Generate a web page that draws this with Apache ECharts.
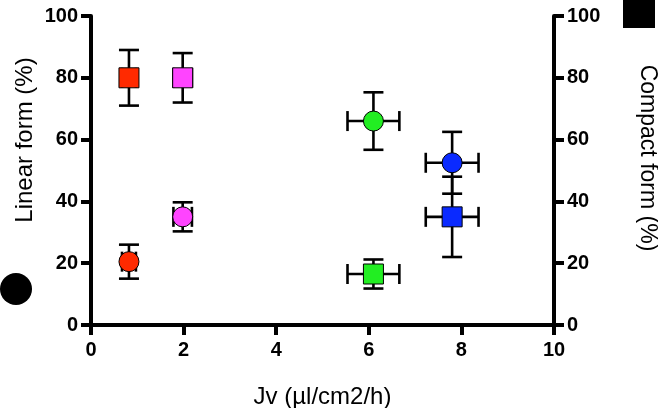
<!DOCTYPE html>
<html>
<head>
<meta charset="utf-8">
<script src="https://cdn.jsdelivr.net/npm/echarts@6/dist/echarts.min.js"></script>
<style>html,body{margin:0;padding:0;background:#fff}#c{width:658px;height:408px}</style>
</head>
<body>
<div id="c"></div>
<script>
// Data
const jv        = [0.82, 1.98, 6.1, 7.8];
const jvErr     = [0.15, 0.2, 0.56, 0.57];
const linear    = [20.5, 35, 66, 52.5];
const linearErr = [5.5, 4.7, 9.3, 10];
const compact   = [80, 80, 16.5, 35];
const compactErr= [9, 8, 4.7, 13];
const colors    = ['#ff2a00', '#ff44ff', '#22ee22', '#0a2aff'];
const xTicks = [0, 2, 4, 6, 8, 10];
const yTicks = [0, 20, 40, 60, 80, 100];

const FONT = '"Liberation Sans", Arial, Helvetica, sans-serif';

function errRender(params, api) {
  const x = api.value(0), y = api.value(1), xe = api.value(2), ye = api.value(3);
  const c = api.coord([x, y]);
  const t = api.coord([x, y + ye]);
  const b = api.coord([x, y - ye]);
  const cap = 10;
  const st = { stroke: '#000', lineWidth: 2.6, fill: null };
  const ch = [
    { type: 'line', shape: { x1: c[0], y1: t[1], x2: c[0], y2: b[1] }, style: st },
    { type: 'line', shape: { x1: c[0] - cap, y1: t[1], x2: c[0] + cap, y2: t[1] }, style: st },
    { type: 'line', shape: { x1: c[0] - cap, y1: b[1], x2: c[0] + cap, y2: b[1] }, style: st }
  ];
  if (xe > 0) {
    const l = api.coord([x - xe, y]);
    const r = api.coord([x + xe, y]);
    ch.push(
      { type: 'line', shape: { x1: l[0], y1: c[1], x2: r[0], y2: c[1] }, style: st },
      { type: 'line', shape: { x1: l[0], y1: c[1] - cap, x2: l[0], y2: c[1] + cap }, style: st },
      { type: 'line', shape: { x1: r[0], y1: c[1] - cap, x2: r[0], y2: c[1] + cap }, style: st }
    );
  }
  return { type: 'group', children: ch };
}

const errLinear = jv.map((x, i) => [x, linear[i], jvErr[i], linearErr[i]]);
const errCompact = jv.map((x, i) => [x, compact[i], jvErr[i], compactErr[i]]);
const ptsLinear = jv.map((x, i) => ({ value: [x, linear[i]], itemStyle: { color: colors[i] } }));
const ptsCompact = jv.map((x, i) => ({ value: [x, compact[i]], itemStyle: { color: colors[i] } }));

const axisCommon = {
  min: 0,
  axisLine: { show: true, lineStyle: { color: '#000', width: 4 } },
  axisTick: { show: true, length: 10, lineStyle: { color: '#000', width: 4 } },
  axisLabel: { color: '#000', fontSize: 20, fontWeight: 'bold', fontFamily: FONT, margin: 13 },
  splitLine: { show: false }
};

const chart = echarts.init(document.getElementById('c'));
chart.setOption({
  animation: false,
  backgroundColor: '#fff',
  grid: { left: 91, right: 104, top: 16, bottom: 83, containLabel: false, outerBoundsMode: 'none' },
  xAxis: Object.assign({}, axisCommon, {
    type: 'value', max: 10, interval: 2,
    axisLabel: Object.assign({}, axisCommon.axisLabel, { margin: 15,
      formatter: v => xTicks.includes(v) ? String(v) : '' }),
    name: 'Jv (\u00b5l/cm2/h)', nameLocation: 'middle', nameGap: 60,
    nameTextStyle: { color: '#000', fontSize: 24, fontFamily: FONT }
  }),
  yAxis: [
    Object.assign({}, axisCommon, {
      type: 'value', max: 100, interval: 20, position: 'left',
      axisLabel: Object.assign({}, axisCommon.axisLabel, { formatter: v => yTicks.includes(v) ? String(v) : '' })
    }),
    Object.assign({}, axisCommon, {
      type: 'value', max: 100, interval: 20, position: 'right',
      axisLabel: Object.assign({}, axisCommon.axisLabel, { formatter: v => yTicks.includes(v) ? String(v) : '' })
    })
  ],
  graphic: [
    { type: 'text', x: 25, y: 140, rotation: Math.PI / 2,
      style: { text: 'Linear form (%)', fill: '#000', font: '24px ' + FONT, textAlign: 'center', textVerticalAlign: 'middle' } },
    { type: 'circle', shape: { cx: 16, cy: 289, r: 16 }, style: { fill: '#000' } },
    { type: 'text', x: 647, y: 158, rotation: -Math.PI / 2,
      style: { text: 'Compact form (%)', fill: '#000', font: '23px ' + FONT, textAlign: 'center', textVerticalAlign: 'middle' } },
    { type: 'rect', shape: { x: 623, y: 0, width: 32, height: 28 }, style: { fill: '#000' } }
  ],
  series: [
    { type: 'custom', name: 'Linear err', yAxisIndex: 0, renderItem: errRender, data: errLinear, z: 2, silent: true },
    { type: 'custom', name: 'Compact err', yAxisIndex: 1, renderItem: errRender, data: errCompact, z: 2, silent: true },
    { type: 'scatter', name: 'Linear form', yAxisIndex: 0, symbol: 'circle', symbolSize: 20,
      itemStyle: { borderColor: '#000', borderWidth: 1, opacity: 1 }, data: ptsLinear, z: 5 },
    { type: 'scatter', name: 'Compact form', yAxisIndex: 1, symbol: 'rect', symbolSize: 20,
      itemStyle: { borderColor: '#000', borderWidth: 1, opacity: 1 }, data: ptsCompact, z: 5 }
  ]
});
</script>
</body>
</html>
